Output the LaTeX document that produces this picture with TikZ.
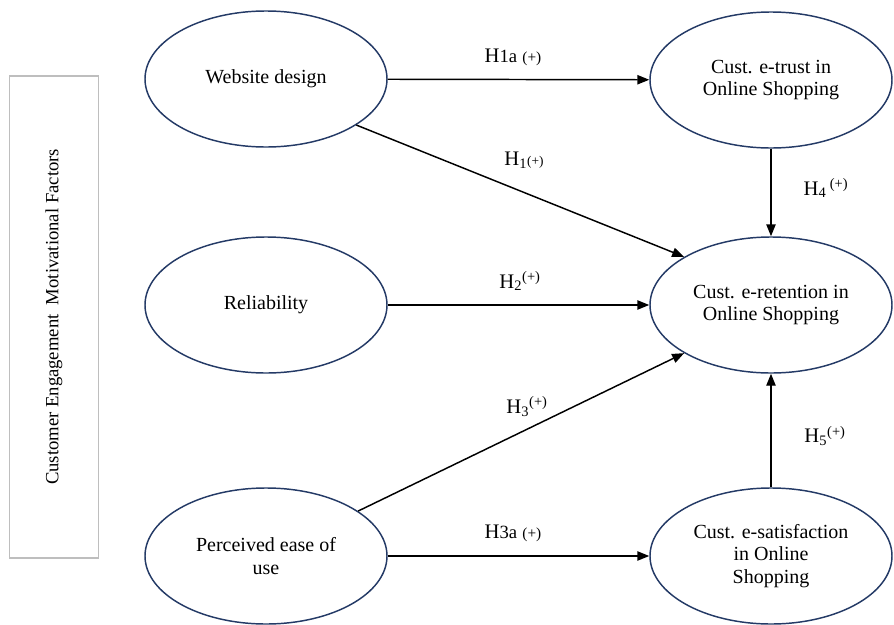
\documentclass[tikz,border=0pt]{standalone}
\usepackage{fontspec}
\setmainfont{Liberation Serif}
\usetikzlibrary{shapes.geometric,arrows.meta}
\definecolor{ovalblue}{RGB}{36,58,102}
\definecolor{boxgray}{RGB}{190,190,190}
\tikzset{factor/.style={ellipse, draw=ovalblue, line width=1.1pt, minimum width=181.5pt, minimum height=102pt, inner sep=0pt, align=center, font=\fontsize{15}{17}\selectfont}}
\tikzset{hyp/.style={-{Triangle[length=9pt,width=7pt]}, line width=1.1pt}}
\tikzset{hlabel/.style={font=\fontsize{15.5}{17}\selectfont, inner sep=1pt}}
\newcommand{\hsub}[1]{{\fontsize{14}{15}\selectfont #1}}
\newcommand{\hplus}{{\fontsize{11.5}{13}\selectfont(+)}}

\begin{document}
\begin{tikzpicture}[x=0.75pt, y=-0.75pt]
\useasboundingbox (0,0) rectangle (894,625);
\node[draw=boxgray, line width=0.9pt, rotate=90, minimum width=361.5pt, minimum height=67pt, inner sep=0pt, font=\fontsize{14}{16}\selectfont] (panel) at (54,317) {Customer Engagement\ \ Motivational Factors};
\node[factor] (web) at (266,79) {Website design};
\node[factor] (rel) at (266,305) {Reliability};
\node[factor] (peou) at (266,556) {Perceived ease of\\use};
\node[factor] (trust) at (771,80) {Cust. e-trust in\\Online Shopping};
\node[factor] (ret) at (771,305) {Cust. e-retention in\\Online Shopping};
\node[factor] (sat) at (771,556) {Cust. e-satisfaction\\in Online\\Shopping};
\draw[hyp] (web) -- (trust);
\draw[hyp] (web.-27) -- (ret.151);
\draw[hyp] (rel) -- (ret);
\draw[hyp] (peou.26) -- (ret.209);
\draw[hyp] (peou) -- (sat);
\draw[hyp] (trust) -- (ret);
\draw[hyp] (sat) -- (ret);
\node[hlabel] (h1a) at (513,57) {H\hsub{1a}\ \hplus};
\node[hlabel] (h1) at (524,160) {H\textsubscript{1}{\fontsize{10}{11}\selectfont(+)}};
\node[hlabel] (h2) at (520,281) {H\textsubscript{2}\textsuperscript{(+)}};
\node[hlabel] (h3) at (527,407) {H\textsubscript{3}\textsuperscript{(+)}};
\node[hlabel] (h3a) at (513,533) {H\hsub{3a}\ \hplus};
\node[hlabel] (h4) at (826,188) {H\textsubscript{4}\,\textsuperscript{(+)}};
\node[hlabel] (h5) at (825,436) {H\textsubscript{5}\textsuperscript{(+)}};
\end{tikzpicture}
\end{document}
